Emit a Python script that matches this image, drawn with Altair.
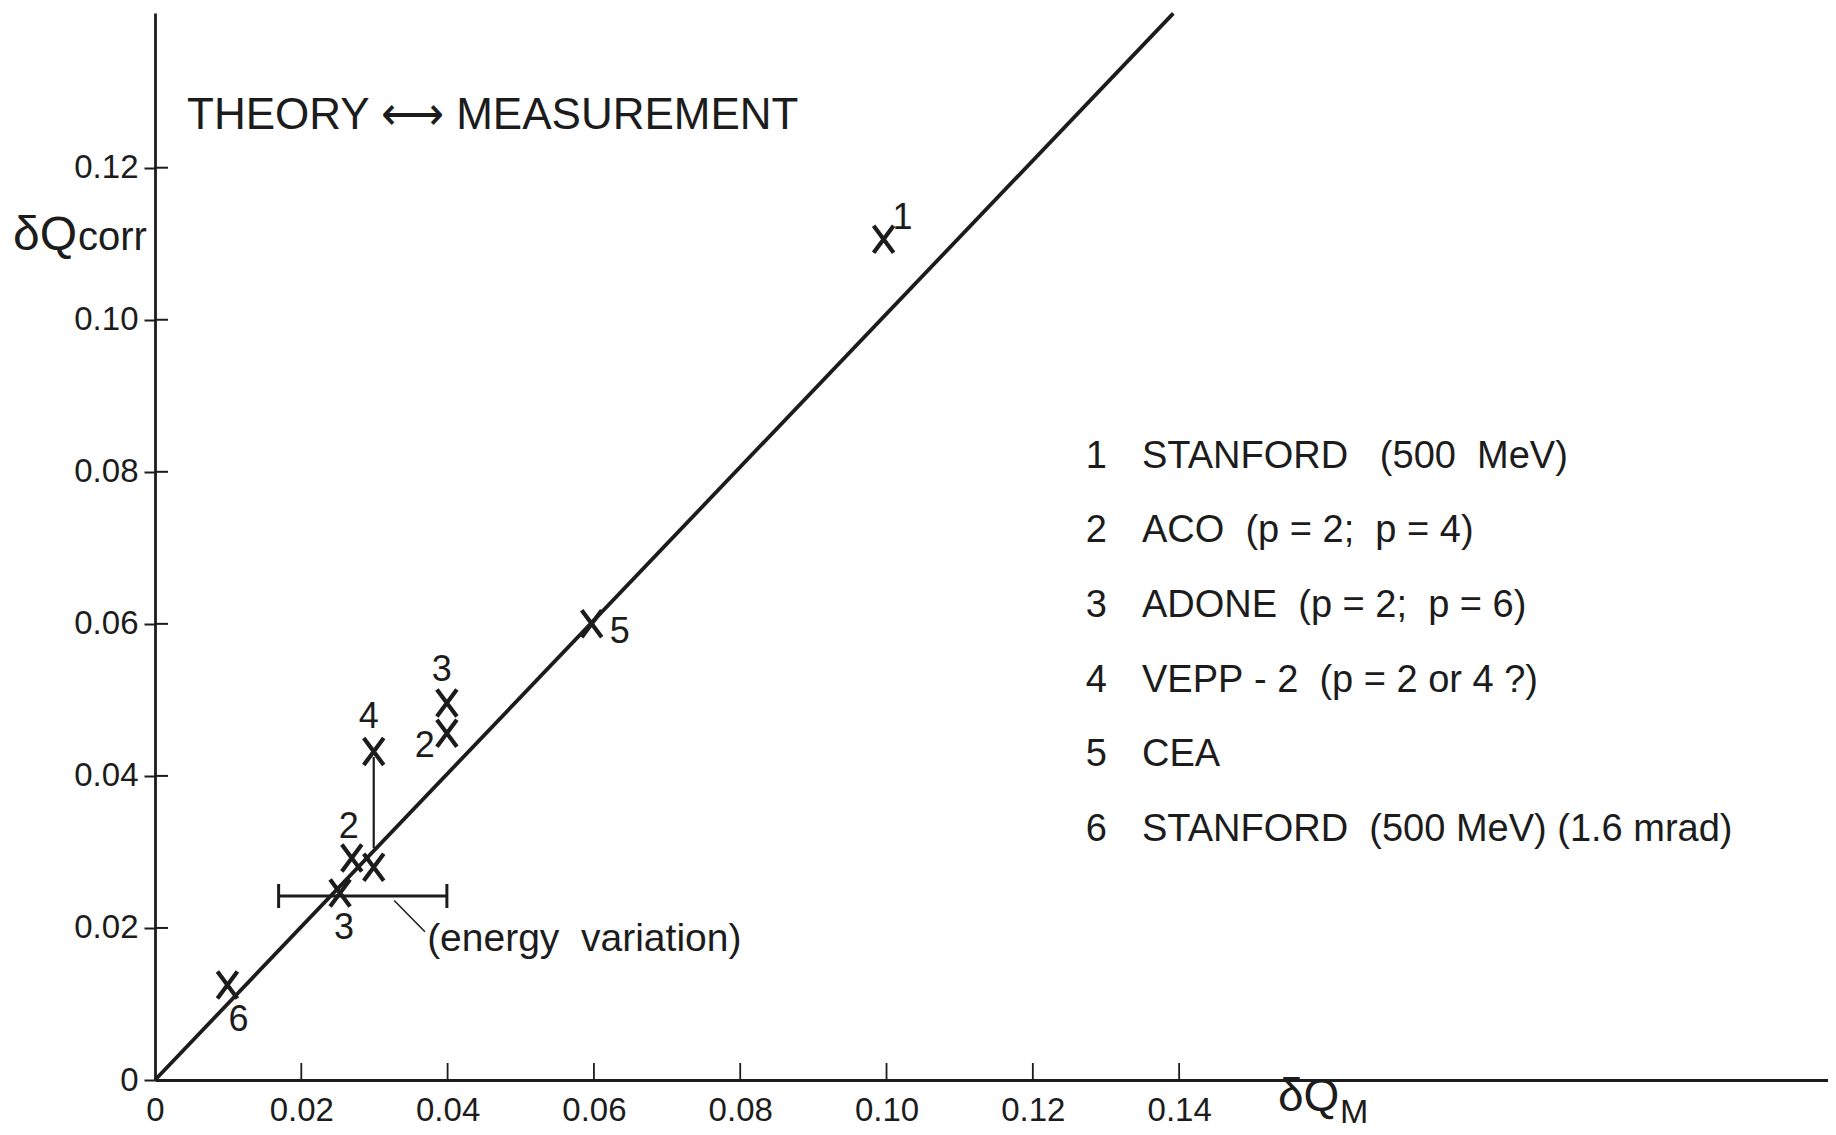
import altair as alt
import pandas as pd

# ---------------- data ----------------
PT_X = [0.0996, 0.0399, 0.0399, 0.0299, 0.0299, 0.0269, 0.0253, 0.0597, 0.0099]
PT_Y = [0.1106, 0.0496, 0.0456, 0.0432, 0.0280, 0.0292, 0.0246, 0.0600, 0.0125]
PT_LABEL = ["1", "3", "2", "4", "", "2", "3", "5", "6"]

LINE_X = [0.0, 0.1392]          # theory = measurement line
LINE_Y = [0.0, 0.1403]

EB_Y = [0.0242]                 # energy-variation error bar
EB_XLO = [0.0169]
EB_XHI = [0.0399]

ARROW_X = [0.0299]              # VEPP-2 vertical connector
ARROW_Y1 = [0.0425]
ARROW_Y2 = [0.0305]

LEADER_X1 = [0.0327]
LEADER_Y1 = [0.0236]
LEADER_X2 = [0.0369]
LEADER_Y2 = [0.0195]
NOTE_X = [0.0372]
NOTE_Y = [0.01855]
NOTE_TEXT = ["(energy\u00a0\u00a0variation)"]

X_TICKS = [0.0, 0.02, 0.04, 0.06, 0.08, 0.10, 0.12, 0.14]
Y_TICKS = [0.0, 0.02, 0.04, 0.06, 0.08, 0.10, 0.12]

LEG_NUM = ["1", "2", "3", "4", "5", "6"]
LEG_TEXT = [
    "STANFORD\u00a0\u00a0\u00a0(500\u00a0\u00a0MeV)",
    "ACO\u00a0\u00a0(p\u00a0=\u00a02;\u00a0\u00a0p\u00a0=\u00a04)",
    "ADONE\u00a0\u00a0(p\u00a0=\u00a02;\u00a0\u00a0p\u00a0=\u00a06)",
    "VEPP\u00a0-\u00a02\u00a0\u00a0(p\u00a0=\u00a02\u00a0or\u00a04\u00a0?)",
    "CEA",
    "STANFORD\u00a0\u00a0(500\u00a0MeV)\u00a0(1.6\u00a0mrad)",
]

TITLE = "THEORY \u27f7 MEASUREMENT"

# ---------------- layout / style ----------------
W, H = 1673, 1067
INK = "#1c1c1c"
REG = "Liberation Sans, Arial, sans-serif"

xs = alt.Scale(domain=[0, 0.2287], nice=False, zero=False)
ys = alt.Scale(domain=[0, 0.14035], nice=False, zero=False)

LABEL_EXPR = "datum.value == 0 ? '0' : format(datum.value, '.2f')"

x_axis = alt.Axis(values=X_TICKS, labelExpr=LABEL_EXPR, ticks=False, grid=False, title=None,
                  domainWidth=2.8, domainColor=INK, labelFont=REG, labelFontSize=33,
                  labelColor=INK, labelPadding=14, labelFlush=False, labelOverlap=False)
y_axis = alt.Axis(values=Y_TICKS, labelExpr=LABEL_EXPR, ticks=True, tickSize=11, tickWidth=2,
                  tickColor=INK, grid=False, title=None, domainWidth=2.8, domainColor=INK,
                  labelFont=REG, labelFontSize=33, labelColor=INK, labelPadding=6,
                  labelFlush=False, labelOverlap=False)


def X(f):
    return alt.X(f, type="quantitative", scale=xs, axis=x_axis)


def Y(f):
    return alt.Y(f, type="quantitative", scale=ys, axis=y_axis)


pts = pd.DataFrame({"x": PT_X, "y": PT_Y, "lab": PT_LABEL, "i": list(range(len(PT_X)))})

XPATH = "M-1,-1.35L1,1.35M1,-1.35L-1,1.35"

points = alt.Chart(pts).mark_point(shape=XPATH, size=400, strokeWidth=4.2, color=INK,
                                   filled=False, opacity=1).encode(x=X("x"), y=Y("y"))

line = alt.Chart(pd.DataFrame({"x": LINE_X, "y": LINE_Y})).mark_line(
    color=INK, strokeWidth=3.8).encode(x=X("x"), y=Y("y"))

# point label offsets (pixels), keyed by point index
OFFS = {0: (19, -21), 1: (-5, -33), 2: (-22, 13), 3: (-5, -35),
        5: (-3, -31), 6: (4, 35), 7: (28, 8), 8: (11, 35)}
label_layers = []
for i, (dx, dy) in OFFS.items():
    label_layers.append(
        alt.Chart(pts).transform_filter(alt.datum.i == i).mark_text(
            dx=dx, dy=dy, font=REG, fontSize=36, color=INK, baseline="middle",
            align="center").encode(x=X("x"), y=Y("y"), text="lab:N"))

ebar = pd.DataFrame({"y": EB_Y, "lo": EB_XLO, "hi": EB_XHI})
eb_rule = alt.Chart(ebar).mark_rule(color=INK, strokeWidth=3.2).encode(
    x=X("lo"), x2="hi", y=Y("y"))
eb_cap_lo = alt.Chart(ebar).mark_tick(orient="vertical", size=24, thickness=3, color=INK,
                                      opacity=1).encode(x=X("lo"), y=Y("y"))
eb_cap_hi = alt.Chart(ebar).mark_tick(orient="vertical", size=24, thickness=3, color=INK,
                                      opacity=1).encode(x=X("hi"), y=Y("y"))

arrow = alt.Chart(pd.DataFrame({"x": ARROW_X, "y1": ARROW_Y1, "y2": ARROW_Y2})).mark_rule(
    color=INK, strokeWidth=2.2).encode(x=X("x"), y=Y("y1"), y2="y2")

leader = alt.Chart(pd.DataFrame({"x1": LEADER_X1, "y1": LEADER_Y1, "x2": LEADER_X2,
                                 "y2": LEADER_Y2})).mark_rule(
    color=INK, strokeWidth=1.5).encode(x=X("x1"), y=Y("y1"), x2="x2", y2="y2")

note = alt.Chart(pd.DataFrame({"x": NOTE_X, "y": NOTE_Y, "t": NOTE_TEXT})).mark_text(
    align="left", baseline="middle", font=REG, fontSize=39, color=INK).encode(
    x=X("x"), y=Y("y"), text="t:N")

# inward parts of the axis ticks
xt = alt.Chart(pd.DataFrame({"v": X_TICKS[1:]})).mark_rule(color=INK, strokeWidth=1.8).encode(
    x=X("v"), y=alt.value(H), y2=alt.value(H - 17))
yt = alt.Chart(pd.DataFrame({"v": Y_TICKS[1:]})).mark_rule(color=INK, strokeWidth=2).encode(
    y=Y("v"), x=alt.value(0), x2=alt.value(13))

# legend block
leg = pd.DataFrame({"num": LEG_NUM, "txt": LEG_TEXT, "row": list(range(len(LEG_NUM)))})
leg_base = alt.Chart(leg).transform_calculate(ly="0.08199 - datum.row * 0.00982")
leg_num = leg_base.mark_text(align="right", baseline="middle", font=REG, fontSize=38,
                             color=INK).encode(x=alt.value(952), y=Y("ly"), text="num:N")
leg_txt = leg_base.mark_text(align="left", baseline="middle", font=REG, fontSize=38,
                             color=INK).encode(x=alt.value(987), y=Y("ly"), text="txt:N")

one = pd.DataFrame({"a": [0]})


def label(txt, px, py, size, font=REG, align="left"):
    return alt.Chart(one).mark_text(text=txt, align=align, baseline="alphabetic", font=font,
                                    fontSize=size, color=INK).encode(
        x=alt.value(px), y=alt.value(py))


title = label(TITLE, 32, 116, 44)
ylab1 = label("\u03b4Q", -142, 237, 48)
ylab2 = label("corr", -77, 237, 40)
xlab1 = label("\u03b4Q", 1123, 1098, 46)
xlab2 = label("M", 1185, 1110, 34)

chart = alt.layer(
    points, line, eb_rule, eb_cap_lo, eb_cap_hi, arrow, leader, note, xt, yt,
    *label_layers, leg_num, leg_txt, title, ylab1, ylab2, xlab1, xlab2,
).properties(
    width=W, height=H,
    autosize=alt.AutoSizeParams(type="none"),
    padding={"left": 147, "top": 5, "right": 0, "bottom": 55},
    background="white",
).configure_view(stroke=None)

chart.save("out.html", embed_options={"renderer": "svg", "actions": False})
